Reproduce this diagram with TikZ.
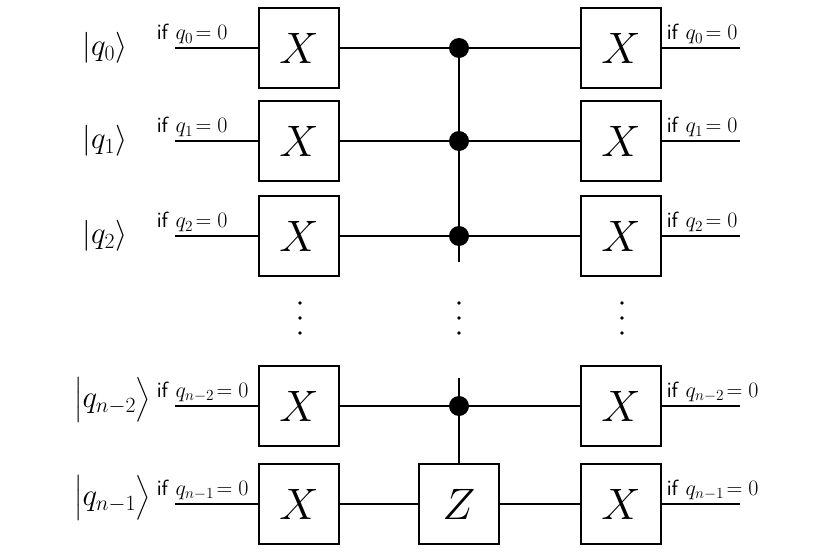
\RequirePackage{fix-cm}
\documentclass[tikz,border=0pt]{standalone}
\usepackage{amsmath}
\usetikzlibrary{positioning}
\begin{document}
\begin{tikzpicture}[x=1pt, y=-1pt, thick, line width=1.6pt]
    \tikzset{gate/.style={draw, fill=white, minimum width=80pt, minimum height=80pt, inner sep=0pt, font=\fontsize{44}{46}\selectfont},
             ctrl/.style={circle, fill=black, minimum size=20pt, inner sep=0pt},
             ket/.style={font=\fontsize{31}{33}\selectfont, inner sep=0pt},
             cond/.style={font=\fontsize{22}{24}\selectfont, inner sep=1pt}}
    \useasboundingbox (0,0) rectangle (830,554);
    % Wires, gates and labels
    \foreach \i/\y/\q in {0/48/q_0, 1/141/q_1, 2/236/q_2, 3/406/q_{n-2}, 4/504/q_{n-1}} {
        \coordinate (in\i) at (175,\y);
        \coordinate (out\i) at (740,\y);
        \node[gate] (xl\i) at (299,\y) {$X$};
        \node[gate] (xr\i) at (621,\y) {$X$};
        \node[cond, anchor=south west] (cl\i) at (155,\y-2) {\textsf{if} $\q\!=0$};
        \node[cond, anchor=south west] (cr\i) at (665,\y-2) {\textsf{if} $\q\!=0$};
        \draw (in\i) -- (xl\i) -- (xr\i) -- (out\i);
    }
    \node[ket, anchor=east] (k0) at (128,48) {$|q_0\rangle$};
    \node[ket, anchor=east] (k1) at (128,141) {$|q_1\rangle$};
    \node[ket, anchor=east] (k2) at (128,236) {$|q_2\rangle$};
    \node[ket, anchor=east] (k3) at (152,400) {$\big|q_{n-2}\big\rangle$};
    \node[ket, anchor=east] (k4) at (152,498) {$\big|q_{n-1}\big\rangle$};
    % Controls
    \node[ctrl] (c0) at (459,48) {};
    \node[ctrl] (c1) at (459,141) {};
    \node[ctrl] (c2) at (459,236) {};
    \node[ctrl] (c3) at (459,406) {};
    \node[gate] (z) at (459,504) {$Z$};
    \coordinate (ctop) at (459,262);
    \coordinate (cbot) at (459,378);
    \draw (c0.center) -- (ctop);
    \draw (cbot) -- (z);
    % Dots
    \foreach \x in {300, 459, 622}
        \foreach \y in {303, 318, 333}
            \fill (\x,\y) circle (1.8pt);
\end{tikzpicture}
\end{document}
